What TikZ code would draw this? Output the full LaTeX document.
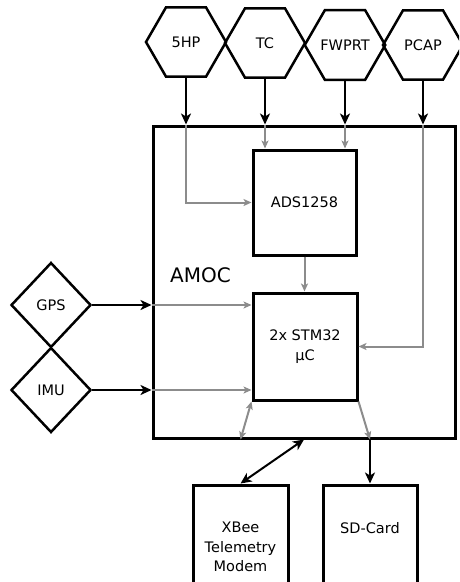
\documentclass[tikz,border=0pt]{standalone}
\usepackage{fontspec}
\setmainfont{DejaVu Sans}
\usetikzlibrary{shapes.geometric, arrows.meta, positioning}
\definecolor{wiregray}{gray}{0.55}

\begin{document}
\begin{tikzpicture}[
    x=1pt, y=-1pt,
    font=\fontsize{14.5}{19.5}\selectfont,
    sensor/.style={regular polygon, regular polygon sides=6, draw, line width=2.5pt, minimum size=80pt, inner sep=0pt},
    gnss/.style={diamond, draw, line width=2.5pt, minimum width=80pt, minimum height=85pt, inner sep=0pt},
    unit/.style={rectangle, draw, line width=3pt, inner sep=0pt},
    link/.style={-{Stealth[length=11pt, width=10pt, inset=3pt]}, line width=2pt},
    duplex/.style={{Stealth[length=11pt, width=10pt, inset=3pt]}-{Stealth[length=11pt, width=10pt, inset=3pt]}, line width=2pt},
    wire/.style={-{Stealth[length=8pt, width=7pt, inset=2pt]}, line width=2pt, draw=wiregray},
    duplexwire/.style={{Stealth[length=8pt, width=7pt, inset=2pt]}-{Stealth[length=8pt, width=7pt, inset=2pt]}, line width=2pt, draw=wiregray}
]
    \path[use as bounding box, clip] (0,0) rectangle (459,582);

    \node[sensor] (hp) at (186,42) {5HP};
    \node[sensor] (tc) at (265,43) {TC};
    \node[sensor] (fwprt) at (345,45) {FWPRT};
    \node[sensor] (pcap) at (423,45) {PCAP};

    \node[gnss] (gps) at (51,305) {GPS};
    \node[gnss] (imu) at (51,390) {IMU};

    \node[unit, minimum width=302pt, minimum height=312pt] (amoc) at (304,282) {};
    \node[anchor=west, inner sep=0pt, font=\fontsize{20}{24}\selectfont] (amoclabel) at (170,275) {AMOC};
    \node[unit, minimum width=103pt, minimum height=105pt] (ads) at (304.5,202.5) {ADS1258};
    \node[unit, minimum width=104pt, minimum height=107pt, align=center] (stm) at (305,346.5) {2x STM32\\µC};

    \node[unit, minimum width=95pt, minimum height=126pt] (xbee) at (240.5,548) {};
    \node[below=35pt of xbee.north, align=center] (xbeetext) {XBee\\Telemetry\\Modem};
    \node[unit, minimum width=94pt, minimum height=126pt] (sd) at (370,548) {};
    \node[below=35pt of sd.north] (sdtext) {SD-Card};

    \draw[link] (hp.south) -- (hp.south |- amoc.north);
    \draw[link] (tc.south) -- (tc.south |- amoc.north);
    \draw[link] (fwprt.south) -- (fwprt.south |- amoc.north);
    \draw[link] (pcap.south) -- (pcap.south |- amoc.north);
    \draw[link] (gps.east) -- (gps.east -| amoc.west);
    \draw[link] (imu.east) -- (imu.east -| amoc.west);

    \draw[wire] (hp.south |- amoc.north) |- (ads.west);
    \draw[wire] (tc.south |- amoc.north) -- (tc.south |- ads.north);
    \draw[wire] (fwprt.south |- amoc.north) -- (fwprt.south |- ads.north);
    \draw[wire] (pcap.south |- amoc.north) |- (stm.east);
    \draw[wire] (ads.south) -- (ads.south |- stm.north);
    \draw[wire] (gps.east -| amoc.west) -- (gps.east -| stm.west);
    \draw[wire] (imu.east -| amoc.west) -- (imu.east -| stm.west);

    \draw[duplexwire] (stm.south west) -- (xbee.north |- amoc.south);
    \draw[wire] (stm.south east) -- (sd.north |- amoc.south);
    \draw[link] (sd.north |- amoc.south) -- (sd.north);
    \draw[duplex] (amoc.south) -- (xbee.north);
\end{tikzpicture}
\end{document}
